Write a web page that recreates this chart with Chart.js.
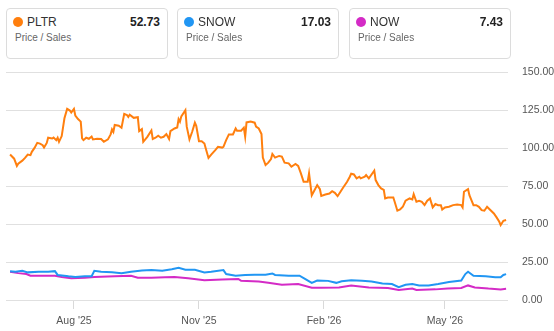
<!DOCTYPE html>
<html>
<head>
<meta charset="utf-8">
<script src="https://cdn.jsdelivr.net/npm/chart.js@4.4.1/dist/chart.umd.min.js"></script>
<style>
  html, body { margin: 0; padding: 0; background: #fff; }
  body { width: 554px; height: 331px; position: relative; overflow: hidden; font-family: "Liberation Sans", Arial, sans-serif; }
  #legend { position: absolute; left: 0; top: 0; z-index: 2; }
  .card { position: absolute; top: 8px; width: 162px; height: 51px; border: 1px solid #dcdcdc; border-radius: 4px; box-sizing: border-box; background: #fff; }
  .dot { position: absolute; left: 6px; top: 8px; width: 10px; height: 10px; border-radius: 50%; }
  .tk { position: absolute; left: 20px; top: 5px; font-size: 12px; color: #333; line-height: 16px; }
  .val { position: absolute; right: 7px; top: 5px; font-size: 12px; font-weight: bold; color: #222; line-height: 16px; }
  .sub { position: absolute; left: 8px; top: 22px; font-size: 10px; color: #666; line-height: 14px; }
  #wrap { position: absolute; left: 0; top: 52px; width: 554px; height: 279px; z-index: 1; }
</style>
</head>
<body>
<div id="legend"></div>
<div id="wrap"><canvas id="c"></canvas></div>
<script>
// ---- data ----
const startDate = '2025-06-15';
const tickDates = ['2025-08-01', '2025-11-01', '2026-02-01', '2026-05-01'];
const tickLabels = ["Aug '25", "Nov '25", "Feb '26", "May '26"];
const tickers = ['PLTR', 'SNOW', 'NOW'];
const latestValues = ['52.73', '17.03', '7.43'];
const metricLabel = 'Price / Sales';
const yTicks = [0, 25, 50, 75, 100, 125, 150];

// [day offset from startDate, price/sales]
const pltrSeries = [[0,95.8],[3,93.1],[5,88.3],[6,89.8],[9,91.8],[11,93.6],[13,95.8],[15,95.4],[16,97.6],[18,100.2],[20,103.5],[22,103],[24,102],[25,100.4],[27,103.5],[28,106.9],[31,106.4],[32,107],[34,105.3],[35,106.9],[36,104.2],[38,108],[40,119.7],[42,125.9],[44,124.8],[45,123.5],[47,125.9],[48,121.5],[50,119.2],[52,117.5],[53,106.4],[54,105.3],[56,106.9],[58,106.2],[60,107.7],[61,105.8],[64,106.2],[67,106],[69,104.2],[72,105.8],[74,109.1],[75,112.4],[76,110.8],[77,115.3],[80,114.8],[82,113.5],[84,122.6],[86,121.9],[87,120.6],[88,122],[91,120],[94,120.4],[95,111.3],[97,112.6],[98,104.2],[101,107.5],[104,111.7],[105,106],[107,106.9],[109,108.2],[111,106.9],[113,107.5],[115,109.3],[117,106],[118,111.3],[121,113],[123,113.7],[124,119.2],[125,117.5],[126,121],[129,125],[130,114.2],[132,105.8],[134,110.8],[136,116.8],[137,114.8],[139,104.6],[141,104.6],[143,103.1],[144,99.8],[146,93.6],[148,95.8],[151,98.7],[153,100.9],[156,100.4],[157,100.9],[159,105.3],[161,109.1],[164,109.1],[166,113],[167,111.5],[170,111.5],[172,113.5],[173,107.5],[174,117],[177,117.5],[180,116.8],[181,114.2],[183,113],[185,109.3],[186,93.8],[188,88.9],[190,90.5],[192,92.9],[193,96.2],[195,93.8],[198,94.9],[200,94.5],[202,90.5],[205,90],[207,87.8],[210,89.6],[212,88.3],[214,83.4],[216,77.9],[219,77.9],[220,83.4],[222,69],[224,72.3],[226,75.7],[228,73],[229,68.6],[232,69.5],[235,70.1],[237,71.7],[239,70.6],[241,68.4],[243,71.2],[245,73.9],[248,77.9],[250,81.2],[251,83.2],[253,82.7],[255,80.1],[257,81.2],[258,80.1],[261,81.2],[262,82.3],[264,80.1],[266,82.7],[268,85.2],[269,79],[271,75.7],[273,73.5],[275,72.5],[276,66.9],[278,67.5],[282,67.5],[283,64.7],[285,58.8],[287,59.6],[289,61.4],[291,65.4],[294,66.9],[296,66.2],[297,69.7],[299,64.7],[301,65.4],[303,64.7],[305,62.5],[307,65.4],[309,66.9],[311,61],[313,63.2],[315,62.5],[317,62.5],[318,59.6],[320,61],[323,61.4],[326,62.5],[329,62.9],[332,62.5],[333,61],[334,71.3],[337,73],[338,69.1],[340,64.7],[341,62.5],[343,62.5],[345,61.4],[347,59.2],[349,58.8],[351,61.4],[353,59.6],[356,57],[358,54.4],[360,51.5],[361,49.3],[363,52.2],[365,52.73]];

const snowSeries = [[0,19.0],[4,18.6],[9,19.2],[13,18.2],[21,18.6],[28,18.6],[33,19],[35,16.5],[43,15.6],[48,15.2],[55,15.6],[60,15.6],[62,19.2],[67,18.6],[75,18.2],[82,17.7],[89,18.6],[97,19.4],[104,19.7],[112,19.2],[119,20.3],[124,21.2],[129,19.9],[136,19.9],[143,18.2],[148,18.6],[157,19.7],[159,17.1],[166,16],[173,16.5],[180,16.7],[188,16.7],[193,17.5],[195,16.5],[205,16],[213,16],[217,13.9],[222,11.3],[226,12.8],[234,12.6],[240,11.3],[244,12.4],[251,13],[259,12.6],[266,12.2],[274,10.9],[281,10.5],[286,8.5],[291,10],[296,10.5],[301,9.6],[308,9.6],[315,10.5],[323,11.8],[332,12.8],[335,17.1],[337,18.6],[341,16],[350,15.6],[357,15],[361,15],[363,16.5],[365,17.03]];

const nowSeries = [[0,18.6],[6,17.7],[12,17.1],[15,16],[23,16],[33,16],[38,15.2],[45,14.3],[55,14.7],[62,15.2],[77,15.6],[89,16],[94,14.7],[104,14.7],[114,15],[121,15.2],[131,14.3],[143,13],[156,13.5],[168,13.9],[170,12.6],[183,12.2],[190,11.3],[200,10],[212,10.5],[222,8.1],[229,8.1],[242,8.3],[251,9.6],[264,8.3],[278,7.9],[286,6.6],[296,7.5],[299,6.6],[313,7],[322,7.5],[332,7.9],[337,9.6],[342,8.3],[352,7.5],[361,7],[365,7.43]];

const colors = ['#ff7f0e', '#2196f3', '#d42bc6'];

// ---- legend cards ----
const legend = document.getElementById('legend');
const cardLefts = [6, 177, 349];
tickers.forEach((t, i) => {
  const c = document.createElement('div');
  c.className = 'card';
  c.style.left = cardLefts[i] + 'px';
  c.innerHTML = '<div class="dot" style="background:' + colors[i] + '"></div>' +
    '<div class="tk">' + t + '</div><div class="val">' + latestValues[i] + '</div>' +
    '<div class="sub">' + metricLabel + '</div>';
  legend.appendChild(c);
});

// ---- chart ----
const dayOf = d => (Date.parse(d) - Date.parse(startDate)) / 86400000;
const tickDays = tickDates.map(dayOf);
const toPts = s => s.map(p => ({ x: p[0], y: p[1] }));

new Chart(document.getElementById('c'), {
  type: 'line',
  data: {
    datasets: [pltrSeries, snowSeries, nowSeries].map((s, i) => ({
      label: tickers[i],
      data: toPts(s),
      borderColor: colors[i],
      borderWidth: 2,
      pointRadius: 0,
      tension: 0,
      fill: false
    }))
  },
  options: {
    responsive: true,
    maintainAspectRatio: false,
    animation: false,
    events: [],
    layout: { padding: { left: 6, top: 1, right: 0, bottom: 0 } },
    plugins: { legend: { display: false }, tooltip: { enabled: false } },
    scales: {
      x: {
        type: 'linear',
        min: -3,
        max: 366.4,
        afterBuildTicks: sc => { sc.ticks = tickDays.map(v => ({ value: v })); },
        afterFit: sc => { sc.height = 31; },
        ticks: {
          autoSkip: false, maxRotation: 0, padding: 6,
          color: '#555', font: { family: 'Liberation Sans', size: 10.5 },
          callback: (v, i) => tickLabels[i]
        },
        grid: { drawOnChartArea: false, drawTicks: true, tickLength: 9, color: '#d9d9d9' },
        border: { display: false }
      },
      y: {
        position: 'right',
        min: 0,
        max: 150,
        afterBuildTicks: sc => { sc.ticks = yTicks.map(v => ({ value: v })); },
        afterFit: sc => { sc.width = 46; },
        ticks: {
          padding: 14, color: '#555', font: { family: 'Liberation Sans', size: 10.5 },
          callback: v => v.toFixed(2)
        },
        grid: { color: '#e0e0e0', lineWidth: 1, drawTicks: false },
        border: { display: false }
      }
    }
  }
});
</script>
</body>
</html>
